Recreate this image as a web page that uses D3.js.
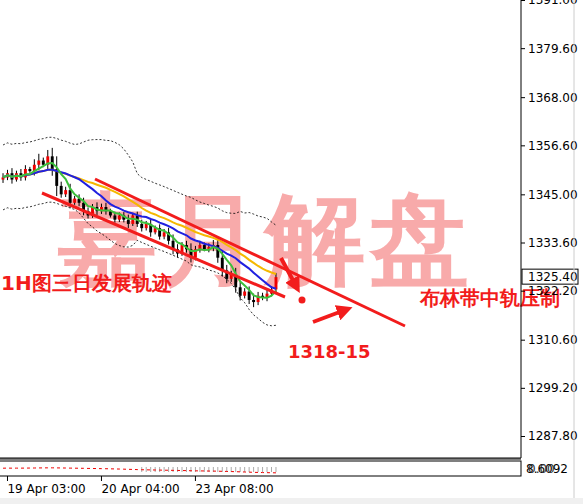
<!DOCTYPE html>
<html><head><meta charset="utf-8">
<script src="https://cdn.jsdelivr.net/npm/d3@7"></script>
<style>body{margin:0;background:#fff}text{font-family:Tahoma,"DejaVu Sans",sans-serif}</style>
</head><body>
<svg id="c" width="583" height="504"></svg>
<script>
const closes = [1349,1350,1348.5,1350,1349,1351,1350.5,1352,1353,1352,1354,1351,1347,1345,1346,1343,1344,1343,1341,1340,1342,1341,1342,1341,1340,1339,1340,1339,1338,1340,1338,1337,1338,1336,1337,1335,1336,1334,1332,1331,1333,1332,1330,1332,1333,1332,1332.5,1333,1330,1327,1325,1326,1323,1321,1322,1320,1319.5,1321,1320.5,1321.5,1322.5,1325.4];
const wicks = [1,0.8,1.2,0.6,1,0.9,0.5,1.3,1.6,0.7,1.5,2,3,1,0.8,1.5,0.6,1,1.2,0.9,0.7,1.1,0.8,1,0.6,0.9,0.7,0.8,1.2,0.6,0.9,1,0.7,1.3,0.6,0.9,0.8,1.1,1.5,1.2,0.7,1,1.4,0.8,1,0.6,0.9,1.2,1.5,1.8,1.3,0.9,1.6,1.4,0.8,1.2,1.5,0.9,0.7,1,0.8,1];
const priceTicks = [1391.00,1379.60,1368.00,1356.60,1345.00,1333.60,1322.20,1310.60,1299.20,1287.80];
const timeLabels = [{i:1,t:"19 Apr 03:00"},{i:22,t:"20 Apr 04:00"},{i:43,t:"23 Apr 08:00"}];
const lastPrice = 1325.40;

const svg = d3.select("#c");
const W = 521, H = 458;
const y = d3.scaleLinear().domain([1287.8,1391.0]).range([436,0]);
const x = d3.scaleBand().domain(d3.range(closes.length)).range([0,279]).padding(0.35);
const cx = i => x(i) + x.bandwidth()/2;

function sma0(n){ return closes.map((_,i)=> d3.mean(closes.slice(Math.max(0,i-n+1),i+1))); }
const mid = sma0(20);
const sd = closes.map((_,i)=> { let s=closes.slice(Math.max(0,i-19),i+1); return s.length>1? d3.deviation(s):1.5; });
const up = mid.map((m,i)=> m+2.4*Math.max(sd[i],3.2)), dn = mid.map((m,i)=> m-2.4*Math.max(sd[i],3.2));

const g = svg.append("g");
// watermark
g.append("text").attr("x",265).attr("y",274).attr("text-anchor","middle")
  .attr("font-size",100).attr("font-weight","bold").attr("fill","#f8aaaa")
  .attr("font-family","Noto Sans CJK SC").attr("letter-spacing",4).text("嘉月解盘");

const line = d3.line().defined(d=>d[1]!=null).x(d=>cx(d[0])).y(d=>y(d[1]));
const series = (arr)=>arr.map((v,i)=>[i,v]);
g.append("path").attr("d",line(series(up))).attr("fill","none").attr("stroke","#000").attr("stroke-dasharray","2,2").attr("stroke-width",0.8);
g.append("path").attr("d",line(series(dn))).attr("fill","none").attr("stroke","#000").attr("stroke-dasharray","2,2").attr("stroke-width",0.8);

// candles
closes.forEach((c,i)=>{
  const o = i? closes[i-1] : c-0.5;
  const hi = Math.max(o,c)+wicks[i], lo = Math.min(o,c)-wicks[i]*0.8;
  g.append("line").attr("x1",cx(i)).attr("x2",cx(i)).attr("y1",y(hi)).attr("y2",y(lo)).attr("stroke","#000");
  g.append("rect").attr("x",x(i)).attr("width",x.bandwidth()).attr("y",y(Math.max(o,c)))
    .attr("height",Math.max(1,Math.abs(y(o)-y(c)))).attr("fill",c>=o?"#e00":"#000");
});
g.append("path").attr("d",line(series(sma0(21)))).attr("fill","none").attr("stroke","#f5b800").attr("stroke-width",2);
g.append("path").attr("d",line(series(sma0(13)))).attr("fill","none").attr("stroke","#2020e0").attr("stroke-width",2);
g.append("path").attr("d",line(series(sma0(5)))).attr("fill","none").attr("stroke","#3cbf3c").attr("stroke-width",2);

// annotations
const red="#f21c1c";
g.append("line").attr("x1",95).attr("y1",179).attr("x2",405).attr("y2",326).attr("stroke",red).attr("stroke-width",3);
g.append("line").attr("x1",42).attr("y1",193).attr("x2",285).attr("y2",297).attr("stroke",red).attr("stroke-width",3);
svg.append("defs").append("marker").attr("id","ah").attr("viewBox","0 0 10 10").attr("refX",5).attr("refY",5)
  .attr("markerWidth",4).attr("markerHeight",4).attr("orient","auto").append("path").attr("d","M0,0L10,5L0,10z").attr("fill",red);
g.append("line").attr("x1",281).attr("y1",258).attr("x2",296).attr("y2",286).attr("stroke",red).attr("stroke-width",4).attr("marker-end","url(#ah)");
g.append("line").attr("x1",313).attr("y1",322).attr("x2",345).attr("y2",310).attr("stroke",red).attr("stroke-width",4).attr("marker-end","url(#ah)");
g.append("circle").attr("cx",302).attr("cy",300).attr("r",3.5).attr("fill",red);
const lab=(t,xx,yy,fs)=>g.append("text").attr("x",xx).attr("y",yy).attr("font-size",fs).attr("font-weight","bold").attr("fill",red).attr("font-family","Noto Sans CJK SC").text(t);
lab("1H图三日发展轨迹",1,290,20); lab("布林带中轨压制",420,305,20); lab("1318-15",288,358,18);

// frame and price axis
svg.append("line").attr("x1",W).attr("x2",W).attr("y1",0).attr("y2",H).attr("stroke","#000");
svg.append("line").attr("x1",0).attr("x2",W).attr("y1",H).attr("y2",H).attr("stroke","#000");
svg.append("g").attr("transform",`translate(${W},0)`).call(d3.axisRight(y).tickValues(priceTicks).tickFormat(d3.format(".2f")).tickSize(4))
  .call(a=>{a.select(".domain").remove();a.selectAll("text").attr("font-size",12).attr("x",7).attr("font-family","Tahoma,DejaVu Sans");});
const py=y(lastPrice);
svg.append("rect").attr("x",W+1).attr("y",py-8).attr("width",56).attr("height",15).attr("fill","#fff").attr("stroke","#000");
svg.append("text").attr("x",W+7).attr("y",py+4).attr("font-size",12).text(lastPrice.toFixed(2));

// sub panel
svg.append("rect").attr("x",-1).attr("y",461).attr("width",W+1).attr("height",15).attr("fill","none").attr("stroke","#000");
svg.append("line").attr("x1",0).attr("x2",W).attr("y1",459).attr("y2",459).attr("stroke","#000");
const sub = d3.scaleLinear().domain([1320,1355]).range([474,467]);
closes.forEach((c,i)=>{ if(i>30) svg.append("line").attr("x1",cx(i)).attr("x2",cx(i)).attr("y1",467).attr("y2",472).attr("stroke","#aaa"); });
svg.append("path").attr("d",d3.line().x((d,i)=>cx(i)).y(d=>sub(d))(sma0(20))).attr("fill","none").attr("stroke","#e00").attr("stroke-dasharray","3,3");
svg.append("text").attr("x",526).attr("y",473).attr("font-size",12).text("8.6092");
svg.append("text").attr("x",528).attr("y",473).attr("font-size",12).attr("fill","#333").text("0.00");

// time axis
timeLabels.forEach(d=>{
  const xx = cx(d.i);
  svg.append("line").attr("x1",xx).attr("x2",xx).attr("y1",476).attr("y2",481).attr("stroke","#000");
  svg.append("text").attr("x",xx).attr("y",493).attr("font-size",12).text(d.t);
});
svg.append("rect").attr("x",0).attr("y",498).attr("width",583).attr("height",6).attr("fill","#f0f0f0");
svg.append("line").attr("x1",574).attr("x2",574).attr("y1",0).attr("y2",498).attr("stroke","#ccc");
</script>
</body></html>
